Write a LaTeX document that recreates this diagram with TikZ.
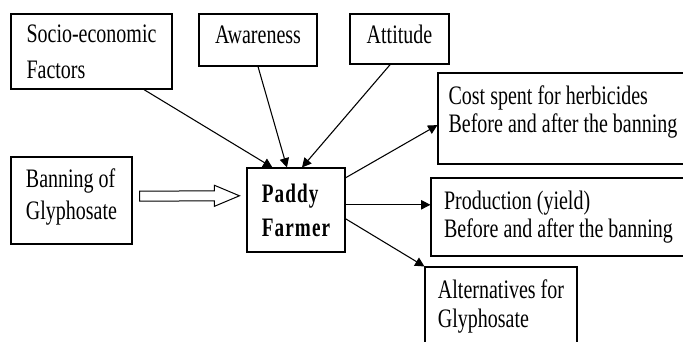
\documentclass[tikz,border=0pt]{standalone}
\usepackage{fontspec}
\setmainfont[FakeStretch=0.75]{Liberation Serif}
\newfontfamily\farmfont[FakeStretch=0.72,LetterSpace=4]{Liberation Serif}
\usetikzlibrary{arrows.meta,calc}

\begin{document}
\begin{tikzpicture}[x=0.75pt,y=-0.75pt,
    box/.style={rectangle,draw,line width=0.8pt,align=left,inner sep=0pt,
      font=\fontsize{20}{21}\selectfont},
    link/.style={line width=0.8pt,-{Triangle[length=7pt,width=7pt]}}]

\useasboundingbox (0,0) rectangle (683,342);

% Influences on the farmer
\node[box,minimum width=120.75pt,minimum height=56.25pt] (soc) at (91.5,51.5) {Socio-economic\\[6pt]Factors};
\node[box,minimum width=88.5pt,minimum height=39pt,text depth=7.5pt] (awa) at (258,40) {Awareness};
\node[box,minimum width=74.25pt,minimum height=37.5pt,text depth=7.5pt] (att) at (399.5,39) {Attitude};
\node[box,minimum width=90.75pt,minimum height=65.25pt,text depth=9.2pt] (ban) at (71.5,200.5) {Banning of\\[2.7pt]Glyphosate};

% The farmer
\node[box,minimum width=73.5pt,minimum height=63pt,font=\farmfont\fontsize{20}{21}\selectfont\bfseries] (far) at (296,210) {Paddy\\[4.5pt]Farmer};

% Outcomes
\node[box,minimum width=187.5pt,minimum height=68.25pt,text depth=13.5pt] (cost) at (563,118.5) {Cost spent for herbicides\\Before and after the banning};
\node[box,minimum width=191.25pt,minimum height=58.5pt] (prod) at (558.5,217) {Production (yield)\\Before and after the banning};
\node[box,minimum width=114pt,minimum height=59.25pt] (alt) at (501,306.5) {Alternatives for\\[1pt]Glyphosate};

% Connectors
\draw[link] (soc.-36.6) -- (far.119.7);
\draw[link] (awa.south) -- (far.102);
\draw[link] (att.-110.8) -- (far.82);
\draw[link] (far.33) -- (cost.183);
\draw[link] (far.6) -- (far.6 -| prod.west);
\draw[link] (far.-10) -- (alt.north west);

% Hollow arrow for the ban
\coordinate (hs) at ($(ban.4.3)+(7,0)$);
\coordinate (he) at ($(far.164)+(-7,0)$);
\draw[line width=0.75pt] ($(hs)+(0,-5)$) -- ($(he)+(-25,-5)$) -- ($(he)+(-25,-10.5)$) -- (he)
  -- ($(he)+(-25,10.5)$) -- ($(he)+(-25,5)$) -- ($(hs)+(0,5)$) -- cycle;

\end{tikzpicture}
\end{document}
